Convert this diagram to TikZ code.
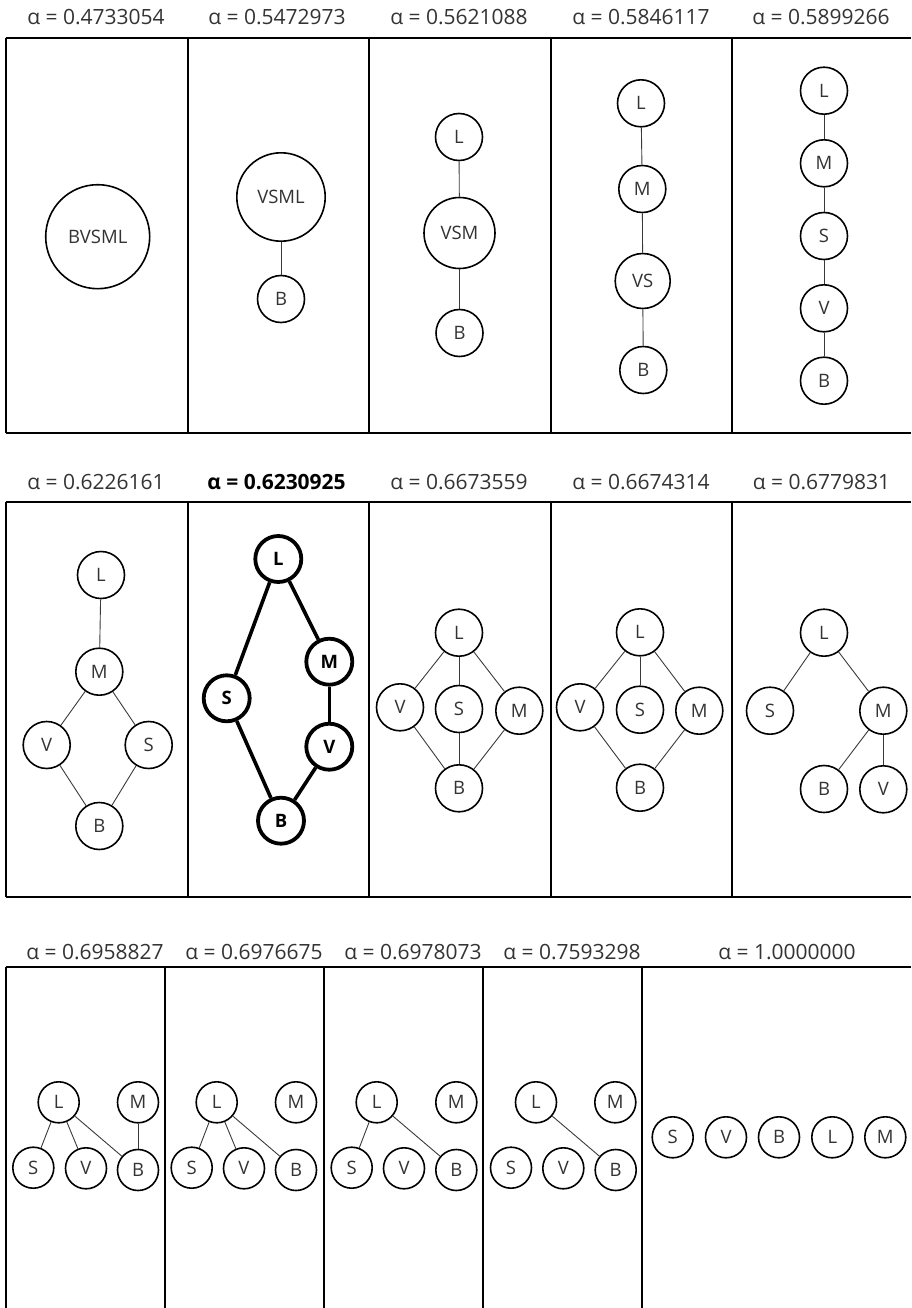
\documentclass[tikz,border=0pt]{standalone}
\usepackage{fontspec}
\setmainfont{Open Sans}
\definecolor{txt}{HTML}{333333}
\definecolor{edg}{HTML}{3A3A3A}
\begin{document}
\begin{tikzpicture}[x=1pt,y=-1pt,
  nd/.style={circle,draw=black,line width=1.6pt,inner sep=0pt,minimum size=47pt,
    font=\fontsize{18.5}{18.5}\selectfont,text=txt},
  sm/.style={nd,minimum size=41pt},
  bnd/.style={circle,draw=black,line width=3.8pt,inner sep=0pt,minimum size=46pt,
    font=\fontsize{18.5}{18.5}\selectfont\bfseries,text=black},
  ed/.style={line width=0.9pt,draw=edg},
  bed/.style={line width=3.6pt,draw=black},
  lab/.style={font=\fontsize{21}{21}\selectfont,text=txt,inner sep=0pt},
  blab/.style={lab,font=\fontsize{21}{21}\selectfont\bfseries,text=black},
  frame/.style={line width=2pt,draw=black}]
\useasboundingbox (0,0) rectangle (911,1308);

% ---------- frames ----------
\draw[frame] (6,38) -- (911,38);
\draw[frame] (6,433) -- (911,433);
\foreach \x in {6,188,369,551,732} \draw[frame] (\x,38) -- (\x,433);
\draw[frame] (6,502) -- (911,502);
\draw[frame] (6,897) -- (911,897);
\foreach \x in {6,188,369,551,732} \draw[frame] (\x,502) -- (\x,897);
\draw[frame] (6,967) -- (911,967);
\foreach \x in {6,165,324,483,642} \draw[frame] (\x,967) -- (\x,1312);

% ---------- labels ----------
\node[lab] (t1) at (96,17) {α = 0.4733054};
\node[lab] (t2) at (277,17) {α = 0.5472973};
\node[lab] (t3) at (459,17) {α = 0.5621088};
\node[lab] (t4) at (641,17) {α = 0.5846117};
\node[lab] (t5) at (821,17) {α = 0.5899266};
\node[lab] (t6) at (96,482) {α = 0.6226161};
\node[blab] (t7) at (276.5,482) {α = 0.6230925};
\node[lab] (t8) at (459,482) {α = 0.6673559};
\node[lab] (t9) at (641,482) {α = 0.6674314};
\node[lab] (t10) at (821.5,482) {α = 0.6779831};
\node[lab] (t11) at (95,952) {α = 0.6958827};
\node[lab] (t12) at (254,952) {α = 0.6976675};
\node[lab] (t13) at (413,952) {α = 0.6978073};
\node[lab] (t14) at (572,952) {α = 0.7593298};
\node[lab] (t15) at (787,952) {α = 1.0000000};

% ---------- row 1 ----------
\node[nd,minimum size=104pt] (a1) at (97.7,236.7) {BVSML};

\node[nd,minimum size=88.4pt] (b1) at (281,197) {VSML};
\node[nd] (b2) at (281,299) {B};
\draw[ed] (b1) -- (b2);

\node[nd] (c1) at (459,137) {L};
\node[nd,minimum size=71pt] (c2) at (459.5,233) {VSM};
\node[nd] (c3) at (459.5,333) {B};
\draw[ed] (c1) -- (c2);
\draw[ed] (c2) -- (c3);

\node[nd] (d1) at (641,103.3) {L};
\node[nd] (d2) at (642.3,189) {M};
\node[nd,minimum size=55pt] (d3) at (642.7,281) {VS};
\node[nd] (d4) at (643.3,370) {B};
\draw[ed] (d1) -- (d2);
\draw[ed] (d2) -- (d3);
\draw[ed] (d3) -- (d4);

\node[nd] (e1) at (824,90.7) {L};
\node[nd] (e2) at (824,163.3) {M};
\node[nd] (e3) at (824,236) {S};
\node[nd] (e4) at (824,308.3) {V};
\node[nd] (e5) at (824,380.7) {B};
\draw[ed] (e1) -- (e2);
\draw[ed] (e2) -- (e3);
\draw[ed] (e3) -- (e4);
\draw[ed] (e4) -- (e5);

% ---------- row 2 ----------
\node[nd] (fL) at (101,575) {L};
\node[nd] (fM) at (99.3,671.7) {M};
\node[nd] (fV) at (46.7,745) {V};
\node[nd] (fS) at (148.7,745) {S};
\node[nd] (fB) at (99.3,826) {B};
\draw[ed] (fL) -- (fM);
\draw[ed] (fM) -- (fV);
\draw[ed] (fM) -- (fS);
\draw[ed] (fV) -- (fB);
\draw[ed] (fS) -- (fB);

\node[bnd] (gL) at (278.3,559) {L};
\node[bnd] (gM) at (329.3,661.7) {M};
\node[bnd] (gS) at (226.7,698.3) {S};
\node[bnd] (gV) at (329.3,746.7) {V};
\node[bnd] (gB) at (281,820.7) {B};
\draw[bed] (gL) -- (gS);
\draw[bed] (gL) -- (gM);
\draw[bed] (gM) -- (gV);
\draw[bed] (gS) -- (gB);
\draw[bed] (gV) -- (gB);

\node[nd] (hL) at (459,632.7) {L};
\node[nd] (hV) at (400,707.3) {V};
\node[nd] (hS) at (459,709) {S};
\node[nd] (hM) at (519.3,710.7) {M};
\node[nd] (hB) at (459,788.3) {B};
\draw[ed] (hL) -- (hV);
\draw[ed] (hL) -- (hS);
\draw[ed] (hL) -- (hM);
\draw[ed] (hV) -- (hB);
\draw[ed] (hS) -- (hB);
\draw[ed] (hM) -- (hB);

\node[nd] (iL) at (640,632.3) {L};
\node[nd] (iV) at (580,707.3) {V};
\node[nd] (iS) at (640,709.7) {S};
\node[nd] (iM) at (699.3,710.7) {M};
\node[nd] (iB) at (640,787.7) {B};
\draw[ed] (iL) -- (iV);
\draw[ed] (iL) -- (iS);
\draw[ed] (iL) -- (iM);
\draw[ed] (iV) -- (iB);
\draw[ed] (iM) -- (iB);

\node[nd] (jL) at (824,632.7) {L};
\node[nd] (jS) at (770,710.7) {S};
\node[nd] (jM) at (883.3,710.7) {M};
\node[nd] (jB) at (824,789) {B};
\node[nd] (jV) at (883.3,789.3) {V};
\draw[ed] (jL) -- (jS);
\draw[ed] (jL) -- (jM);
\draw[ed] (jM) -- (jB);
\draw[ed] (jM) -- (jV);

% ---------- row 3 ----------
\node[sm] (kL) at (58.7,1102.3) {L};
\node[sm] (kM) at (138,1102.3) {M};
\node[sm] (kS) at (33.3,1167.7) {S};
\node[sm] (kV) at (86,1168.3) {V};
\node[sm] (kB) at (138,1170) {B};
\draw[ed] (kL) -- (kS);
\draw[ed] (kL) -- (kV);
\draw[ed] (kL) -- (kB);
\draw[ed] (kM) -- (kB);

\node[sm] (lL) at (216.7,1102.3) {L};
\node[sm] (lM) at (296,1102.3) {M};
\node[sm] (lS) at (191.7,1167.7) {S};
\node[sm] (lV) at (244,1168.3) {V};
\node[sm] (lB) at (296,1170) {B};
\draw[ed] (lL) -- (lS);
\draw[ed] (lL) -- (lV);
\draw[ed] (lL) -- (lB);

\node[sm] (mL) at (376.7,1102.3) {L};
\node[sm] (mM) at (456.3,1102.3) {M};
\node[sm] (mS) at (351.7,1167.7) {S};
\node[sm] (mV) at (404,1168.3) {V};
\node[sm] (mB) at (456.3,1170) {B};
\draw[ed] (mL) -- (mS);
\draw[ed] (mL) -- (mB);

\node[sm] (nL) at (536,1102.3) {L};
\node[sm] (nM) at (615.3,1102.3) {M};
\node[sm] (nS) at (511,1167.7) {S};
\node[sm] (nV) at (563.3,1168.3) {V};
\node[sm] (nB) at (615.7,1170) {B};
\draw[ed] (nL) -- (nB);

\node[sm] (oS) at (672.7,1137.3) {S};
\node[sm] (oV) at (726,1137.3) {V};
\node[sm] (oB) at (779,1137.3) {B};
\node[sm] (oL) at (832.3,1137.3) {L};
\node[sm] (oM) at (885.3,1137.3) {M};
\end{tikzpicture}
\end{document}
